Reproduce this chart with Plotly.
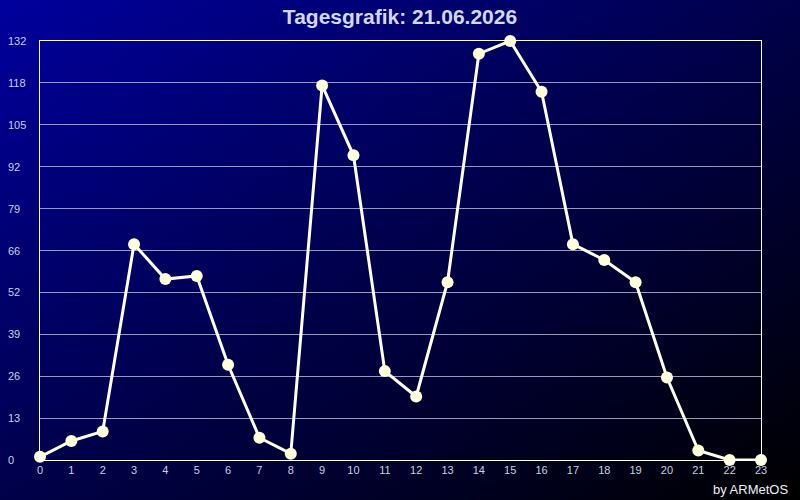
import base64
import plotly.graph_objects as go

hours = list(range(24))
values = [1, 6, 9, 68, 57, 58, 30, 7, 2, 118, 96, 28, 20, 56, 128, 132, 116, 68, 63, 56, 26, 3, 0, 0]
y_tickvals = [0, 13.2, 26.4, 39.6, 52.8, 66, 79.2, 92.4, 105.6, 118.8, 132]
y_ticktext = ["0", "13", "26", "39", "52", "66", "79", "92", "105", "118", "132"]
title_text = "Tagesgrafik: 21.06.2026"
credit_text = "by ARMetOS"

W, H = 800, 500
ML, MR, MT, MB = 40, 39, 41, 40
PW, PH = W - ML - MR, H - MT - MB

svg = (
    '<svg xmlns="http://www.w3.org/2000/svg" width="800" height="500" preserveAspectRatio="none">'
    '<defs><linearGradient id="g" x1="0" y1="0" x2="1" y2="1">'
    '<stop offset="0" stop-color="#00009e"/>'
    '<stop offset="0.5" stop-color="#00004a"/>'
    '<stop offset="1" stop-color="#000000"/>'
    '</linearGradient></defs>'
    '<rect width="800" height="500" fill="url(#g)"/></svg>'
)
bg_uri = "data:image/svg+xml;base64," + base64.b64encode(svg.encode()).decode()

fig = go.Figure()
fig.add_trace(go.Scatter(
    x=hours, y=values, mode="lines+markers",
    line=dict(color="#fffff0", width=3),
    marker=dict(color="#ffffdc", size=12, line=dict(width=0)),
    cliponaxis=False, showlegend=False, hoverinfo="x+y",
))

annotations = [
    dict(text=t, x=0, xref="paper", y=v, yref="y", xanchor="left", yanchor="middle",
         xshift=-34, showarrow=False,
         font=dict(family="Liberation Sans, Arial", size=11, color="#c8d0e6"))
    for v, t in zip(y_tickvals, y_ticktext)
]
annotations.append(dict(
    text=credit_text, x=1, xref="paper", y=0, yref="paper", xanchor="right", yanchor="top",
    xshift=29, yshift=-20, showarrow=False,
    font=dict(family="Liberation Sans, Arial", size=13, color="#f0f0f8")))

fig.update_layout(
    width=W, height=H,
    margin=dict(l=ML, r=MR, t=MT, b=MB, pad=0),
    paper_bgcolor="#000040", plot_bgcolor="rgba(0,0,0,0)",
    title=dict(text="<b>" + title_text + "</b>", x=0.5, xanchor="center", y=1 - 17 / H, yanchor="middle",
               font=dict(family="Liberation Sans, Arial", size=21, color="#d2d8f0")),
    images=[dict(source=bg_uri, xref="paper", yref="paper", x=-ML / PW, y=1 + MT / PH,
                 sizex=W / PW, sizey=H / PH, sizing="stretch", xanchor="left", yanchor="top",
                 layer="below")],
    xaxis=dict(range=[0, 23], tickvals=hours, ticktext=[str(h) for h in hours],
               showgrid=False, zeroline=False, showline=True, linecolor="#ffffff", linewidth=1,
               mirror=True, ticks="", tickfont=dict(family="Liberation Sans, Arial", size=11, color="#c8d0e6")),
    yaxis=dict(range=[0, 132], tickvals=y_tickvals, showticklabels=False,
               showgrid=True, gridcolor="#9a9ab8", gridwidth=1, zeroline=False,
               showline=True, linecolor="#ffffff", linewidth=1, mirror=True, ticks=""),
    annotations=annotations,
)

fig.write_html("out.html", config={"displayModeBar": False},
               post_script="document.body.style.margin='0';document.body.style.overflow='hidden';")
